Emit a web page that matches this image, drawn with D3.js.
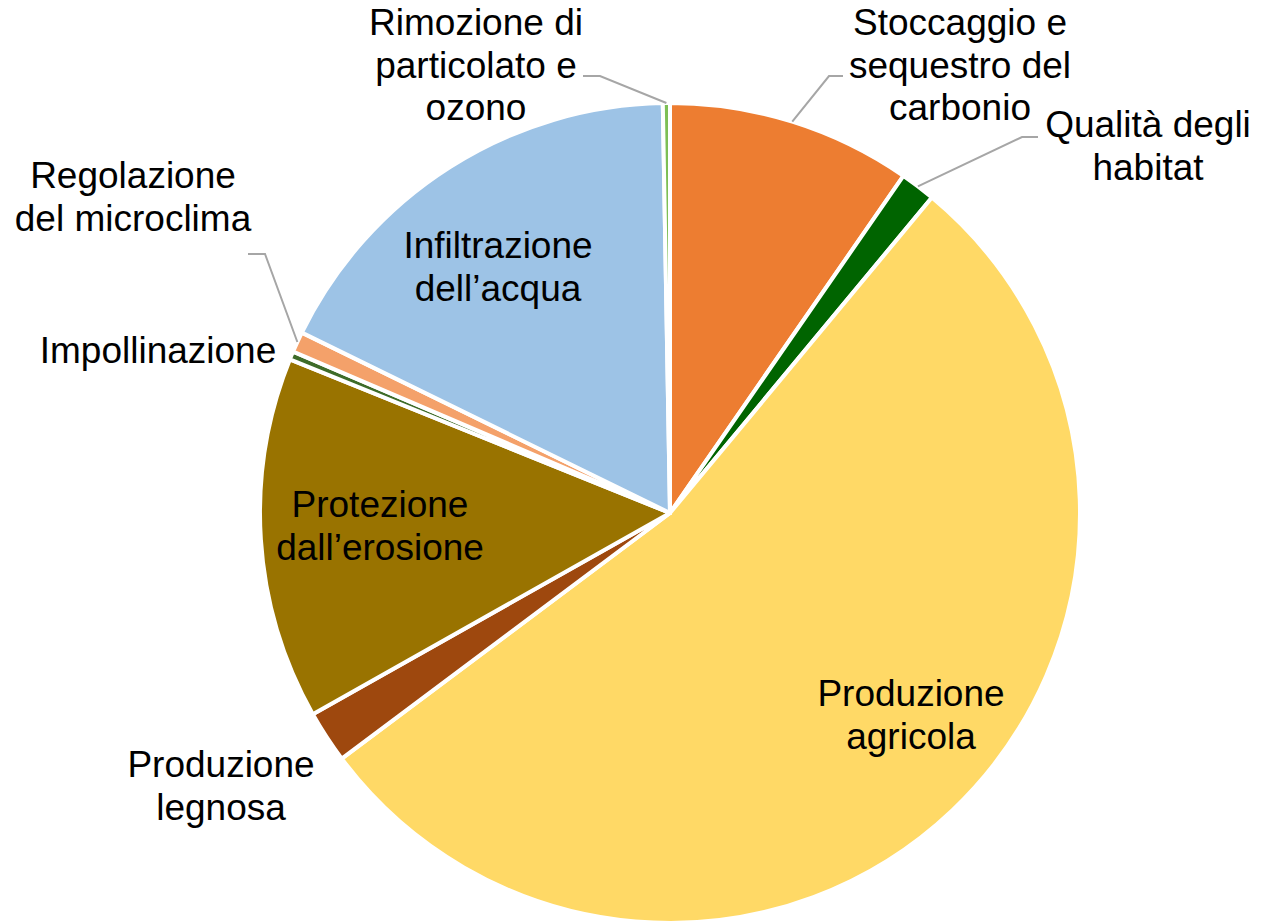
<!DOCTYPE html>
<html>
<head>
<meta charset="utf-8">
<script src="https://cdn.jsdelivr.net/npm/d3@7"></script>
<style>
  html, body { margin: 0; padding: 0; background: #fff; }
  svg { display: block; }
</style>
</head>
<body>
<svg id="chart" width="1262" height="922"></svg>
<script>
// servizi ecosistemici, quota %
const categories = [
  "Stoccaggio e sequestro del carbonio",
  "Qualità degli habitat",
  "Produzione agricola",
  "Produzione legnosa",
  "Protezione dall'erosione",
  "Impollinazione",
  "Regolazione del microclima",
  "Infiltrazione dell'acqua",
  "Rimozione di particolato e ozono"
];
const values = [9.64, 1.39, 53.75, 2.06, 14.28, 0.33, 0.81, 17.47, 0.28];
const colors = ["#ED7D31", "#006400", "#FFD966", "#9E480E", "#997300",
                "#3E6B29", "#F4A16A", "#9DC3E6", "#7DBF55"];
const labelLines = [
  ["Stoccaggio e", "sequestro del", "carbonio"],
  ["Qualità degli", "habitat"],
  ["Produzione", "agricola"],
  ["Produzione", "legnosa"],
  ["Protezione", "dall\u2019erosione"],
  ["Impollinazione"],
  ["Regolazione", "del microclima"],
  ["Infiltrazione", "dell\u2019acqua"],
  ["Rimozione di", "particolato e", "ozono"]
];

// label placement (Excel-like), x = centre, y = first baseline
const labelPos = [
  { x: 960, y: 35, leader: [[843, 76], [829, 76]] },
  { x: 1148, y: 137, leader: [[1038, 137], [1022, 137]] },
  { x: 911, y: 706 },
  { x: 221, y: 777 },
  { x: 380, y: 517 },
  { x: 158, y: 363 },
  { x: 133, y: 188, leader: [[248, 254], [265, 254]] },
  { x: 498, y: 258 },
  { x: 476, y: 35, leader: [[583, 76], [600, 76]] }
];

const cx = 670, cy = 513, radius = 410;
const lineH = 42.5;

const svg = d3.select("#chart");
const g = svg.append("g").attr("transform", `translate(${cx},${cy})`);

const pie = d3.pie().sort(null).value(d => d);
const arcs = pie(values);
const arc = d3.arc().innerRadius(0).outerRadius(radius);

g.selectAll("path.slice")
  .data(arcs)
  .join("path")
  .attr("class", "slice")
  .attr("d", arc)
  .attr("fill", (d, i) => colors[i])
  .attr("stroke", "#fff")
  .attr("stroke-width", 4)
  .attr("stroke-linejoin", "round");

// leader lines
const edgePoint = d => {
  const a = (d.startAngle + d.endAngle) / 2;
  return [cx + radius * Math.sin(a), cy - radius * Math.cos(a)];
};
arcs.forEach((d, i) => {
  const lp = labelPos[i];
  if (!lp.leader) return;
  const pts = lp.leader.concat([edgePoint(d)]);
  svg.append("path")
    .attr("d", d3.line()(pts))
    .attr("fill", "none")
    .attr("stroke", "#A6A6A6")
    .attr("stroke-width", 2);
});

// labels
const txt = svg.selectAll("text.lbl")
  .data(categories)
  .join("text")
  .attr("class", "lbl")
  .attr("x", (d, i) => labelPos[i].x)
  .attr("y", (d, i) => labelPos[i].y)
  .attr("text-anchor", "middle")
  .attr("font-family", "'Liberation Sans', Arial, sans-serif")
  .attr("font-size", 37)
  .attr("fill", "#000");

txt.each(function(d, i) {
  d3.select(this).selectAll("tspan")
    .data(labelLines[i])
    .join("tspan")
    .attr("x", labelPos[i].x)
    .attr("dy", (t, j) => j === 0 ? 0 : lineH)
    .text(t => t);
});
</script>
</body>
</html>
